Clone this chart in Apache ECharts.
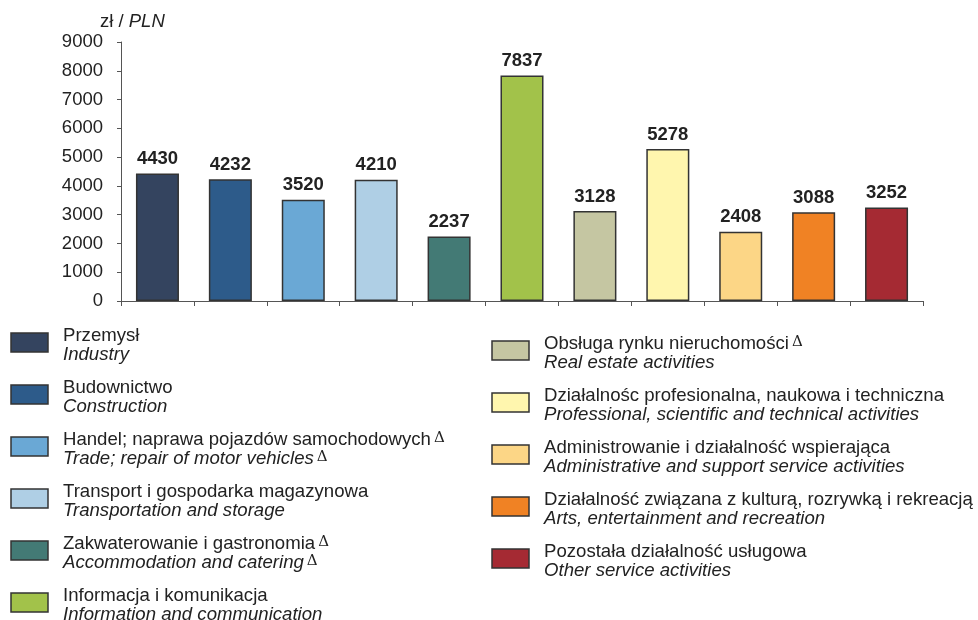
<!DOCTYPE html>
<html>
<head>
<meta charset="utf-8">
<script src="https://cdn.jsdelivr.net/npm/echarts@6/dist/echarts.min.js"></script>
<style>
  html, body { margin: 0; padding: 0; background: #fff; }
  #chart { width: 978px; height: 620px; }
</style>
</head>
<body>
<div id="chart"></div>
<script>
// dane
var sectorsPl = [
    'Przemysł', 'Budownictwo', 'Handel; naprawa pojazdów samochodowych', 'Transport i gospodarka magazynowa',
    'Zakwaterowanie i gastronomia', 'Informacja i komunikacja', 'Obsługa rynku nieruchomości',
    'Działalnośc profesionalna, naukowa i techniczna', 'Administrowanie i działalność wspierająca',
    'Działalność związana z kulturą, rozrywką i rekreacją', 'Pozostała działalność usługowa'
];
var sectorsEn = [
    'Industry', 'Construction', 'Trade; repair of motor vehicles', 'Transportation and storage',
    'Accommodation and catering', 'Information and communication', 'Real estate activities',
    'Professional, scientific and technical activities', 'Administrative and support service activities',
    'Arts, entertainment and recreation', 'Other service activities'
];
var deltaPl = [false, false, true, false, true, false, true, false, false, false, false];
var deltaEn = [false, false, true, false, true, false, false, false, false, false, false];
var wages = [4430, 4232, 3520, 4210, 2237, 7837, 3128, 5278, 2408, 3088, 3252];
var yTicks = [0, 1000, 2000, 3000, 4000, 5000, 6000, 7000, 8000, 9000];

var colorList = ['#34445f', '#2d5b8a', '#6aa8d5', '#afcfe5', '#437a75', '#a2c24a',
    '#c5c6a2', '#fff6ae', '#fcd686', '#f08224', '#a52a33'];

var FONT = '"Liberation Sans", Arial, sans-serif';

var chart = echarts.init(document.getElementById('chart'));

// legenda - dwie kolumny
var legendItems = [];
for (var i = 0; i < sectorsPl.length; i++) {
    var col = i < 6 ? 0 : 1;
    var row = i < 6 ? i : i - 6;
    var x0 = col === 0 ? 11 : 492;
    var y0 = col === 0 ? 333 + row * 52 : 341 + row * 52;
    var txt = '{pl|' + sectorsPl[i] + '}' + (deltaPl[i] ? '{sup|Δ}' : '') +
        '\n{en|' + sectorsEn[i] + '}' + (deltaEn[i] ? '{sup|Δ}' : '');
    legendItems.push({
        type: 'rect',
        shape: {x: x0, y: y0, width: 37, height: 19},
        style: {fill: colorList[i], stroke: '#333', lineWidth: 1.5}
    });
    legendItems.push({
        type: 'text',
        x: x0 + 52,
        y: y0 - 6,
        style: {
            text: txt,
            fill: '#222',
            font: '18.6px ' + FONT,
            rich: {
                pl: {fontSize: 18.6, fontFamily: FONT, lineHeight: 18.5, fill: '#222'},
                en: {fontSize: 18.6, fontFamily: FONT, fontStyle: 'italic', lineHeight: 18.5, fill: '#222'},
                sup: {fontSize: 15, fontFamily: 'DejaVu Serif', lineHeight: 18.5, verticalAlign: 'top', padding: [0, 0, 11, 3], fill: '#222'}
            }
        }
    });
}
legendItems.push({
    type: 'text',
    x: 100,
    y: 12,
    style: {
        text: '{a|zł / }{b|PLN}',
        rich: {
            a: {fontSize: 18.5, fontFamily: FONT, fill: '#222'},
            b: {fontSize: 18.5, fontFamily: FONT, fontStyle: 'italic', fill: '#222'}
        }
    }
});

var option = {
    animation: false,
    backgroundColor: '#fff',
    grid: {left: 121, right: 55, top: 42, bottom: 319, containLabel: false},
    xAxis: {
        type: 'category',
        data: sectorsEn,
        axisLine: {lineStyle: {color: '#555', width: 1}},
        axisTick: {show: true, interval: 0, length: 5, lineStyle: {color: '#555'}},
        axisLabel: {show: false}
    },
    yAxis: {
        type: 'value',
        min: yTicks[0],
        max: yTicks[yTicks.length - 1],
        interval: 1000,
        axisLine: {show: true, lineStyle: {color: '#555', width: 1}},
        axisTick: {show: true, length: 4, lineStyle: {color: '#555'}},
        splitLine: {show: false},
        axisLabel: {
            fontSize: 18.5, fontFamily: FONT, color: '#222', margin: 18,
            formatter: function(v) { return String(v); }
        }
    },
    series: [{
        type: 'bar',
        barWidth: '59%',
        data: wages.map(function(v, i) {
            return {value: v, itemStyle: {color: colorList[i]}};
        }),
        itemStyle: {borderColor: '#333', borderWidth: 1.5},
        label: {
            show: true,
            position: 'top',
            distance: 5,
            fontSize: 18.5,
            fontWeight: 'bold',
            fontFamily: FONT,
            color: '#222'
        }
    }],
    graphic: legendItems
};

chart.setOption(option);
</script>
</body>
</html>
